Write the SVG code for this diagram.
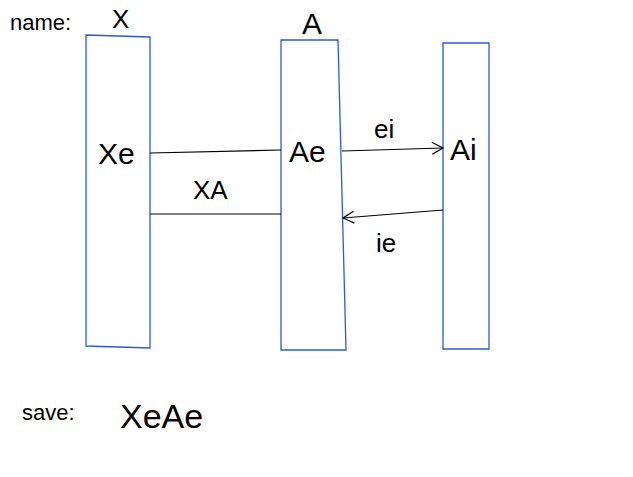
<svg xmlns="http://www.w3.org/2000/svg" width="633" height="477" viewBox="0 0 633 477">
<style>
.box{fill:none;stroke:#2a5bd7;stroke-width:1.3}
.ln{fill:none;stroke:#000;stroke-width:1.2}
text{font-family:"Liberation Sans",sans-serif;fill:#000}
.big{font-size:30px}
.mid{font-size:22px}
.lab{font-size:26px}
</style>
<defs>
<marker id="ah" markerWidth="14" markerHeight="14" refX="12" refY="7" orient="auto" markerUnits="userSpaceOnUse">
<path d="M1,1 L12,7 L1,13" fill="none" stroke="#000" stroke-width="1.2"/>
</marker>
</defs>
<rect width="633" height="477" fill="#fff"/>
<text x="10" y="30" class="mid">name:</text>
<text x="112" y="28" class="lab">X</text>
<text x="302" y="34" class="big">A</text>
<g id="X"><path class="box" d="M86,35 L150,37 L150,348 L86,346 Z"/><text x="98" y="164" class="big">Xe</text></g>
<g id="A"><path class="box" d="M281,40 L338,40 L346,350 L281,350 Z"/><text x="289" y="162" class="big">Ae</text></g>
<g id="Ai"><path class="box" d="M443,43 L489,43 L489,349 L443,349 Z"/><text x="450" y="160" class="big">Ai</text></g>
<g id="connectors">
<path class="ln" d="M150,153 L281,150"/>
<path class="ln" d="M150,214 L281,214"/>
<path class="ln" d="M342,151 L443,148" marker-end="url(#ah)"/>
<path class="ln" d="M443,210 L343,218" marker-end="url(#ah)"/>
<text x="193" y="199" class="lab">XA</text>
<text x="374" y="138" class="lab">ei</text>
<text x="376" y="252" class="lab">ie</text>
</g>
<text x="22" y="420" class="mid">save:</text>
<text x="120" y="428" class="big" style="font-size:34px">XeAe</text>
</svg>
